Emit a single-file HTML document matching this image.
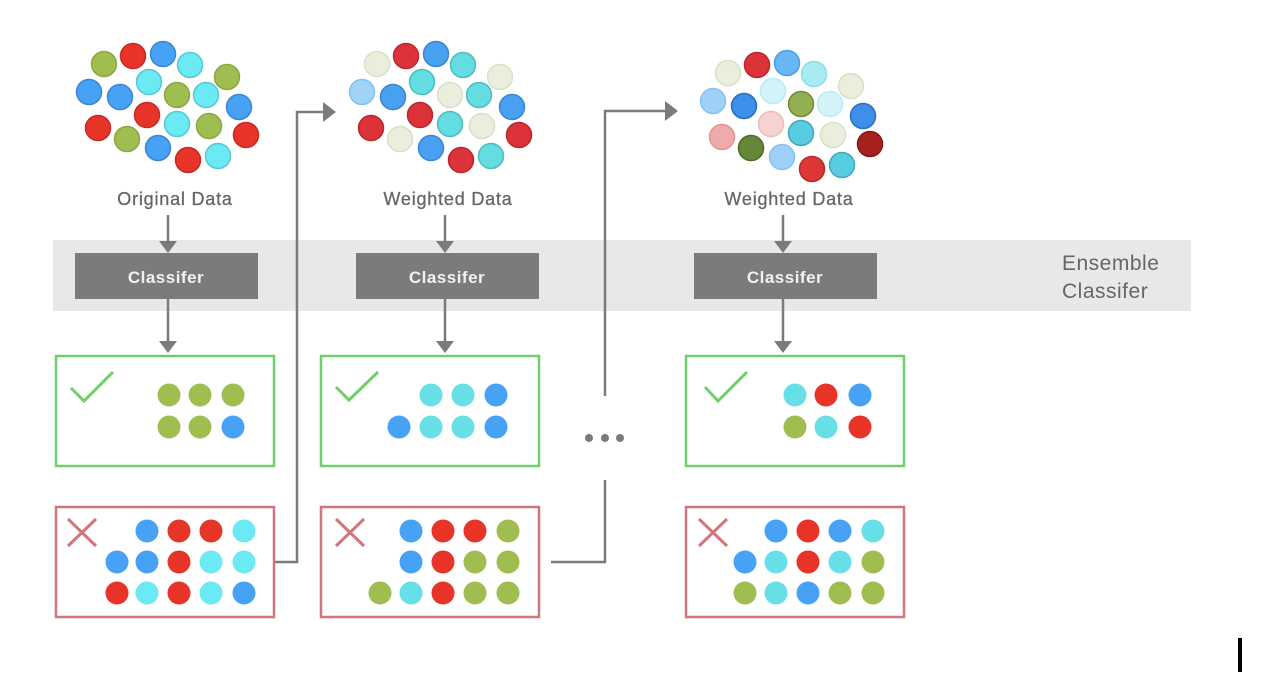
<!DOCTYPE html>
<html><head><meta charset="utf-8"><style>
html,body{margin:0;padding:0;background:#fff;}
svg{display:block;}
text{font-family:"Liberation Sans","DejaVu Sans",sans-serif;}
</style></head><body>
<svg width="1272" height="678" viewBox="0 0 1272 678" xmlns="http://www.w3.org/2000/svg">
<!-- band -->
<rect x="53" y="240" width="1138" height="71" fill="#e8e8e8"/>
<text x="1062" y="270" font-size="21" fill="#666" letter-spacing="0.5">Ensemble</text>
<text x="1062" y="298" font-size="21" fill="#666" letter-spacing="0.5">Classifer</text>

<g fill="#7b7b7b">
<rect x="75" y="253" width="183" height="46"/>
<rect x="356" y="253" width="183" height="46"/>
<rect x="694" y="253" width="183" height="46"/>
</g>
<g font-size="17" font-weight="bold" fill="#f2f2f2" text-anchor="middle" letter-spacing="0.5">
<text x="166" y="283">Classifer</text>
<text x="447" y="283">Classifer</text>
<text x="785" y="283">Classifer</text>
</g>
<g font-size="18" fill="#666" text-anchor="middle" letter-spacing="0.8" stroke="#666" stroke-width="0.3">
<text x="175" y="205">Original Data</text>
<text x="448" y="205">Weighted Data</text>
<text x="789" y="205">Weighted Data</text>
</g>

<!-- arrows -->
<g stroke="#7b7b7b" stroke-width="2.5" fill="none">
<line x1="168" y1="215" x2="168" y2="242"/>
<line x1="168" y1="299" x2="168" y2="342"/>
<line x1="445" y1="215" x2="445" y2="242"/>
<line x1="445" y1="299" x2="445" y2="342"/>
<line x1="783" y1="215" x2="783" y2="242"/>
<line x1="783" y1="299" x2="783" y2="342"/>
<polyline points="274,562 297,562 297,112 324,112"/>
<polyline points="551,562 605,562 605,480"/>
<polyline points="605,396 605,111 666,111"/>
</g>
<g fill="#7b7b7b">
<polygon points="159,241 177,241 168,253"/>
<polygon points="159,341 177,341 168,353"/>
<polygon points="436,241 454,241 445,253"/>
<polygon points="436,341 454,341 445,353"/>
<polygon points="774,241 792,241 783,253"/>
<polygon points="774,341 792,341 783,353"/>
<polygon points="323,102 336,112 323,122"/>
<polygon points="665,101 678,111 665,121"/>
<circle cx="589" cy="438" r="4"/><circle cx="605" cy="438" r="4"/><circle cx="620" cy="438" r="4"/>
</g>

<!-- boxes -->
<g fill="none" stroke-width="2.5">
<rect x="56" y="356" width="218" height="110" stroke="#6fcf6a"/>
<rect x="321" y="356" width="218" height="110" stroke="#6fcf6a"/>
<rect x="686" y="356" width="218" height="110" stroke="#6fcf6a"/>
<rect x="56" y="507" width="218" height="110" stroke="#d0767c"/>
<rect x="321" y="507" width="218" height="110" stroke="#d0767c"/>
<rect x="686" y="507" width="218" height="110" stroke="#d0767c"/>
</g>
<g fill="none" stroke="#6fcf6a" stroke-width="3">
<polyline points="71,388 84,401 113,372"/>
<polyline points="336,387 349,400 378,372"/>
<polyline points="705,387 718,401 747,372"/>
</g>
<g stroke="#d0767c" stroke-width="3">
<line x1="68" y1="519" x2="96" y2="546"/><line x1="96" y1="519" x2="68" y2="546"/>
<line x1="336" y1="519" x2="364" y2="546"/><line x1="364" y1="519" x2="336" y2="546"/>
<line x1="699" y1="519" x2="727" y2="546"/><line x1="727" y1="519" x2="699" y2="546"/>
</g>

<!-- box dots -->
<g>
<circle cx="169" cy="395" r="11.5" fill="#9fbe4f"/><circle cx="200" cy="395" r="11.5" fill="#9fbe4f"/><circle cx="233" cy="395" r="11.5" fill="#9fbe4f"/>
<circle cx="169" cy="427" r="11.5" fill="#9fbe4f"/><circle cx="200" cy="427" r="11.5" fill="#9fbe4f"/><circle cx="233" cy="427" r="11.5" fill="#47a1f5"/>
<circle cx="147" cy="531" r="11.5" fill="#47a1f5"/><circle cx="179" cy="531" r="11.5" fill="#e83329"/><circle cx="211" cy="531" r="11.5" fill="#e83329"/><circle cx="244" cy="531" r="11.5" fill="#6ceaf4"/>
<circle cx="117" cy="562" r="11.5" fill="#47a1f5"/><circle cx="147" cy="562" r="11.5" fill="#47a1f5"/><circle cx="179" cy="562" r="11.5" fill="#e83329"/><circle cx="211" cy="562" r="11.5" fill="#6ceaf4"/><circle cx="244" cy="562" r="11.5" fill="#6ceaf4"/>
<circle cx="117" cy="593" r="11.5" fill="#e83329"/><circle cx="147" cy="593" r="11.5" fill="#6ceaf4"/><circle cx="179" cy="593" r="11.5" fill="#e83329"/><circle cx="211" cy="593" r="11.5" fill="#6ceaf4"/><circle cx="244" cy="593" r="11.5" fill="#47a1f5"/>
<circle cx="431" cy="395" r="11.5" fill="#66e0e6"/><circle cx="463" cy="395" r="11.5" fill="#66e0e6"/><circle cx="496" cy="395" r="11.5" fill="#47a1f5"/>
<circle cx="399" cy="427" r="11.5" fill="#47a1f5"/><circle cx="431" cy="427" r="11.5" fill="#66e0e6"/><circle cx="463" cy="427" r="11.5" fill="#66e0e6"/><circle cx="496" cy="427" r="11.5" fill="#47a1f5"/>
<circle cx="411" cy="531" r="11.5" fill="#47a1f5"/><circle cx="443" cy="531" r="11.5" fill="#e83329"/><circle cx="475" cy="531" r="11.5" fill="#e83329"/><circle cx="508" cy="531" r="11.5" fill="#9fbe4f"/>
<circle cx="411" cy="562" r="11.5" fill="#47a1f5"/><circle cx="443" cy="562" r="11.5" fill="#e83329"/><circle cx="475" cy="562" r="11.5" fill="#9fbe4f"/><circle cx="508" cy="562" r="11.5" fill="#9fbe4f"/>
<circle cx="380" cy="593" r="11.5" fill="#9fbe4f"/><circle cx="411" cy="593" r="11.5" fill="#66e0e6"/><circle cx="443" cy="593" r="11.5" fill="#e83329"/><circle cx="475" cy="593" r="11.5" fill="#9fbe4f"/><circle cx="508" cy="593" r="11.5" fill="#9fbe4f"/>
<circle cx="795" cy="395" r="11.5" fill="#66e0e6"/><circle cx="826" cy="395" r="11.5" fill="#e83329"/><circle cx="860" cy="395" r="11.5" fill="#47a1f5"/>
<circle cx="795" cy="427" r="11.5" fill="#9fbe4f"/><circle cx="826" cy="427" r="11.5" fill="#66e0e6"/><circle cx="860" cy="427" r="11.5" fill="#e83329"/>
<circle cx="776" cy="531" r="11.5" fill="#47a1f5"/><circle cx="808" cy="531" r="11.5" fill="#e83329"/><circle cx="840" cy="531" r="11.5" fill="#47a1f5"/><circle cx="873" cy="531" r="11.5" fill="#66e0e6"/>
<circle cx="745" cy="562" r="11.5" fill="#47a1f5"/><circle cx="776" cy="562" r="11.5" fill="#66e0e6"/><circle cx="808" cy="562" r="11.5" fill="#e83329"/><circle cx="840" cy="562" r="11.5" fill="#66e0e6"/><circle cx="873" cy="562" r="11.5" fill="#9fbe4f"/>
<circle cx="745" cy="593" r="11.5" fill="#9fbe4f"/><circle cx="776" cy="593" r="11.5" fill="#66e0e6"/><circle cx="808" cy="593" r="11.5" fill="#47a1f5"/><circle cx="840" cy="593" r="11.5" fill="#9fbe4f"/><circle cx="873" cy="593" r="11.5" fill="#9fbe4f"/>
</g>

<!-- cluster 1 -->
<g stroke-width="1.5">
<circle cx="104" cy="64" r="12.5" fill="#9fbe4f" stroke="#8aa744"/>
<circle cx="133" cy="56" r="12.5" fill="#e83329" stroke="#c62a22"/>
<circle cx="163" cy="54" r="12.5" fill="#47a1f5" stroke="#3a86cf"/>
<circle cx="190" cy="65" r="12.5" fill="#6ceaf4" stroke="#55c8d2"/>
<circle cx="227" cy="77" r="12.5" fill="#9fbe4f" stroke="#8aa744"/>
<circle cx="89" cy="92" r="12.5" fill="#47a1f5" stroke="#3a86cf"/>
<circle cx="120" cy="97" r="12.5" fill="#47a1f5" stroke="#3a86cf"/>
<circle cx="149" cy="82" r="12.5" fill="#6ceaf4" stroke="#55c8d2"/>
<circle cx="177" cy="95" r="12.5" fill="#9fbe4f" stroke="#8aa744"/>
<circle cx="206" cy="95" r="12.5" fill="#6ceaf4" stroke="#55c8d2"/>
<circle cx="239" cy="107" r="12.5" fill="#47a1f5" stroke="#3a86cf"/>
<circle cx="98" cy="128" r="12.5" fill="#e83329" stroke="#c62a22"/>
<circle cx="147" cy="115" r="12.5" fill="#e83329" stroke="#c62a22"/>
<circle cx="177" cy="124" r="12.5" fill="#6ceaf4" stroke="#55c8d2"/>
<circle cx="209" cy="126" r="12.5" fill="#9fbe4f" stroke="#8aa744"/>
<circle cx="127" cy="139" r="12.5" fill="#9fbe4f" stroke="#8aa744"/>
<circle cx="158" cy="148" r="12.5" fill="#47a1f5" stroke="#3a86cf"/>
<circle cx="188" cy="160" r="12.5" fill="#e83329" stroke="#c62a22"/>
<circle cx="218" cy="156" r="12.5" fill="#6ceaf4" stroke="#55c8d2"/>
<circle cx="246" cy="135" r="12.5" fill="#e83329" stroke="#c62a22"/>
</g>
<!-- cluster 2 -->
<g stroke-width="1.5" transform="translate(273,0)">
<circle cx="104" cy="64" r="12.5" fill="#e9eedd" stroke="#d9e0c8"/>
<circle cx="133" cy="56" r="12.5" fill="#dc323a" stroke="#b8282e"/>
<circle cx="163" cy="54" r="12.5" fill="#47a1f0" stroke="#3a86cf"/>
<circle cx="190" cy="65" r="12.5" fill="#63dde0" stroke="#4fbcbf"/>
<circle cx="227" cy="77" r="12.5" fill="#e9eedd" stroke="#d9e0c8"/>
<circle cx="89" cy="92" r="12.5" fill="#9fd3f8" stroke="#84c2f0"/>
<circle cx="120" cy="97" r="12.5" fill="#47a1f0" stroke="#3a86cf"/>
<circle cx="149" cy="82" r="12.5" fill="#63dde0" stroke="#4fbcbf"/>
<circle cx="177" cy="95" r="12.5" fill="#e9eedd" stroke="#d9e0c8"/>
<circle cx="206" cy="95" r="12.5" fill="#63dde0" stroke="#4fbcbf"/>
<circle cx="239" cy="107" r="12.5" fill="#47a1f0" stroke="#3a86cf"/>
<circle cx="98" cy="128" r="12.5" fill="#dc323a" stroke="#b8282e"/>
<circle cx="147" cy="115" r="12.5" fill="#dc323a" stroke="#b8282e"/>
<circle cx="177" cy="124" r="12.5" fill="#63dde0" stroke="#4fbcbf"/>
<circle cx="209" cy="126" r="12.5" fill="#e9eedd" stroke="#d9e0c8"/>
<circle cx="127" cy="139" r="12.5" fill="#e9eedd" stroke="#d9e0c8"/>
<circle cx="158" cy="148" r="12.5" fill="#47a1f0" stroke="#3a86cf"/>
<circle cx="188" cy="160" r="12.5" fill="#dc323a" stroke="#b8282e"/>
<circle cx="218" cy="156" r="12.5" fill="#63dde0" stroke="#4fbcbf"/>
<circle cx="246" cy="135" r="12.5" fill="#dc323a" stroke="#b8282e"/>
</g>
<!-- cluster 3 -->
<g stroke-width="1.5" transform="translate(624,9)">
<circle cx="104" cy="64" r="12.5" fill="#e9eedd" stroke="#d9e0c8"/>
<circle cx="133" cy="56" r="12.5" fill="#dc323a" stroke="#b8282e"/>
<circle cx="163" cy="54" r="12.5" fill="#6ab6f5" stroke="#4a9ee6"/>
<circle cx="190" cy="65" r="12.5" fill="#a8ecf2" stroke="#8adde6"/>
<circle cx="227" cy="77" r="12.5" fill="#e9eedd" stroke="#d9e0c8"/>
<circle cx="89" cy="92" r="12.5" fill="#9fd0f8" stroke="#84c2f0"/>
<circle cx="120" cy="97" r="12.5" fill="#3e8eeb" stroke="#2c6fbc"/>
<circle cx="149" cy="82" r="12.5" fill="#d2f4f8" stroke="#b8ecf2"/>
<circle cx="177" cy="95" r="12.5" fill="#93b051" stroke="#6f8a3a"/>
<circle cx="206" cy="95" r="12.5" fill="#d2f4f8" stroke="#b8ecf2"/>
<circle cx="239" cy="107" r="12.5" fill="#3e8eeb" stroke="#2c6fbc"/>
<circle cx="98" cy="128" r="12.5" fill="#eeabac" stroke="#e29496"/>
<circle cx="147" cy="115" r="12.5" fill="#f6d3d3" stroke="#ecbcbc"/>
<circle cx="177" cy="124" r="12.5" fill="#58cce0" stroke="#3fa8bb"/>
<circle cx="209" cy="126" r="12.5" fill="#e9eedd" stroke="#d9e0c8"/>
<circle cx="127" cy="139" r="12.5" fill="#66863a" stroke="#4c6a28"/>
<circle cx="158" cy="148" r="12.5" fill="#9fd0f8" stroke="#84c2f0"/>
<circle cx="188" cy="160" r="12.5" fill="#dc3636" stroke="#b8282e"/>
<circle cx="218" cy="156" r="12.5" fill="#58cce0" stroke="#3fa8bb"/>
<circle cx="246" cy="135" r="12.5" fill="#a8201e" stroke="#7e1816"/>
</g>

<rect x="1238" y="638" width="4" height="34" fill="#000"/>
</svg>
</body></html>
